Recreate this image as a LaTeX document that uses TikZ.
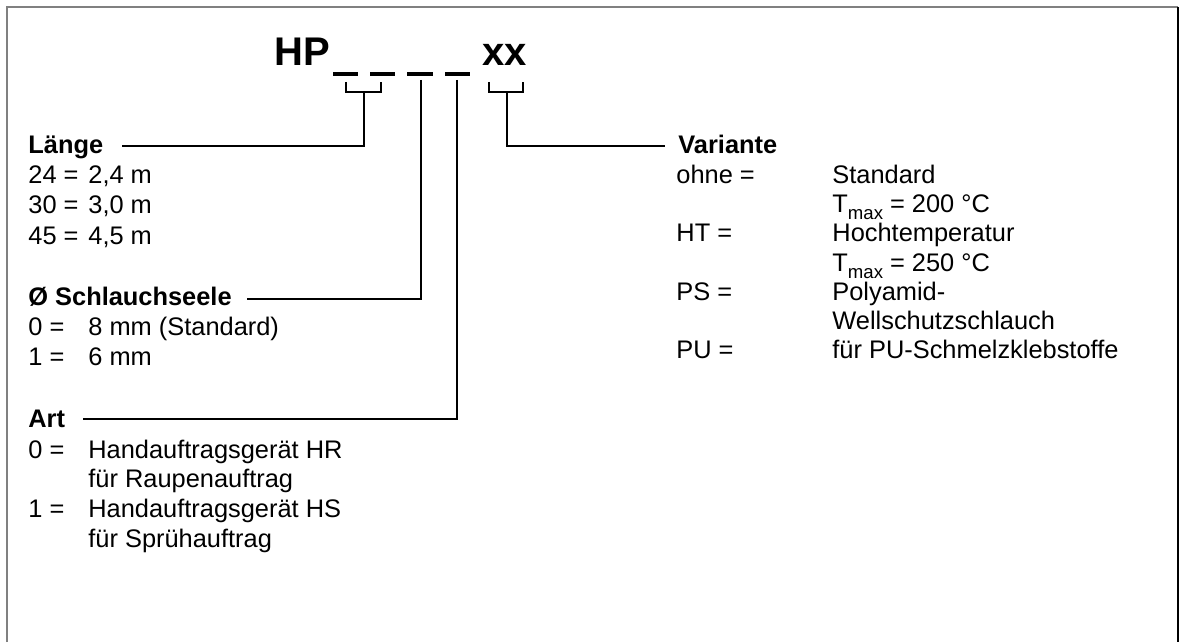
\documentclass[tikz,border=0pt]{standalone}
\usepackage{fontspec}
\setmainfont{Liberation Sans}
\newcommand{\tmaxlbl}{T\smash{\raisebox{-3.5pt}{\fontsize{9.3}{10}\selectfont max}}}
\begin{document}
\begin{tikzpicture}[x=0.5pt,y=-0.5pt,
  txt/.style={anchor=base west,inner sep=0pt,font=\fontsize{12.7}{14}\selectfont},
  hd/.style={anchor=base west,inner sep=0pt,font=\fontsize{12.7}{14}\selectfont\bfseries},
  title/.style={anchor=base west,inner sep=0pt,font=\fontsize{20}{22}\selectfont\bfseries},
  conn/.style={line width=1pt},
  dashbar/.style={line width=2pt}]
\useasboundingbox (0,0) rectangle (1181,642);
% frame
\draw[gray,line width=0.8pt] (7,642) -- (7,7) -- (1178,7);
\draw[black,line width=0.8pt] (1178,7) -- (1178,642);
% title
\node[title] (hp) at (274,66) {HP};
\node[title] (xx) at (482,66) {xx};
\draw[dashbar] (333,74) -- (358,74);
\draw[dashbar] (370,74) -- (395,74);
\draw[dashbar] (407,74) -- (433,74);
\draw[dashbar] (445,74) -- (470,74);
% left texts
\node[hd] (laenge) at (28,153) {Länge};
\node[txt] (k24) at (28,183) {24 =};
\node[txt] (v24) at (88,183) {2,4 m};
\node[txt] (k30) at (28,213) {30 =};
\node[txt] (v30) at (88,213) {3,0 m};
\node[txt] (k45) at (28,244) {45 =};
\node[txt] (v45) at (88,244) {4,5 m};
\node[hd] (schl) at (28,305) {Ø Schlauchseele};
\node[txt] (s0) at (28,335) {0 =};
\node[txt] (sv0) at (88,335) {8 mm (Standard)};
\node[txt] (s1) at (28,365) {1 =};
\node[txt] (sv1) at (88,365) {6 mm};
\node[hd] (art) at (28,427) {Art};
\node[txt] (a0) at (28,458) {0 =};
\node[txt] (av0) at (88,458) {Handauftragsgerät HR};
\node[txt] (av0b) at (88,487) {für Raupenauftrag};
\node[txt] (a1) at (28,517) {1 =};
\node[txt] (av1) at (88,517) {Handauftragsgerät HS};
\node[txt] (av1b) at (88,547) {für Sprühauftrag};
% right texts
\node[hd] (var) at (678,153) {Variante};
\node[txt] (ohne) at (676,183) {ohne =};
\node[txt] (std) at (832,183) {Standard};
\node[txt] (t200) at (832,212) {\tmaxlbl{} = 200 °C};
\node[txt] (ht) at (676,241) {HT =};
\node[txt] (hoch) at (832,241) {Hochtemperatur};
\node[txt] (t250) at (832,271) {\tmaxlbl{} = 250 °C};
\node[txt] (ps) at (676,300) {PS =};
\node[txt] (poly) at (832,300) {Polyamid-};
\node[txt] (well) at (832,329) {Wellschutzschlauch};
\node[txt] (pu) at (676,358) {PU =};
\node[txt] (puv) at (832,358) {für PU-Schmelzklebstoffe};
% brackets and connectors
\coordinate (b1l) at (346,82);
\coordinate (b1r) at (381,82);
\coordinate (b1m) at (364,92);
\coordinate (c1) at (364,146);
\coordinate (e1) at (122,146);
\draw[conn] (b1l) |- (b1r |- b1m) -- (b1r);
\draw[conn] (b1m) -- (c1) -- (e1);
\coordinate (d3) at (421,80);
\coordinate (e3) at (247,299);
\draw[conn] (d3) |- (e3);
\coordinate (d4) at (457,80);
\coordinate (e4) at (83,419);
\draw[conn] (d4) |- (e4);
\coordinate (b2l) at (489,82);
\coordinate (b2r) at (523,82);
\coordinate (b2m) at (507,92);
\coordinate (c2) at (507,146);
\coordinate (e2) at (665,146);
\draw[conn] (b2l) |- (b2r |- b2m) -- (b2r);
\draw[conn] (b2m) -- (c2) -- (e2);
\end{tikzpicture}
\end{document}
